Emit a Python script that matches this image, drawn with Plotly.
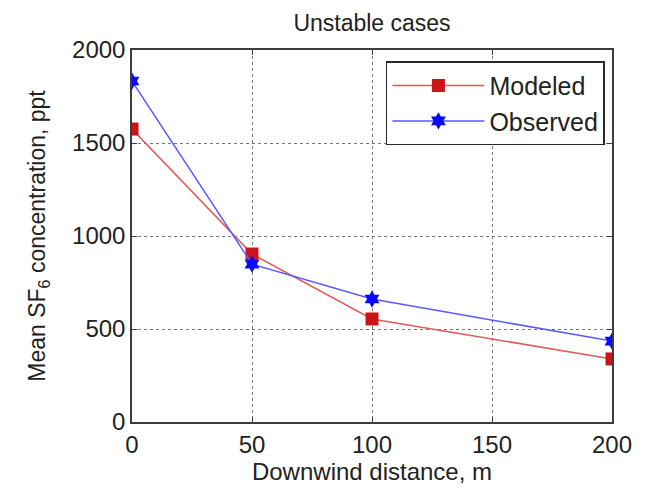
import plotly.graph_objects as go

distance = [0, 50, 100, 200]
modeled = [1575, 903, 554, 339]
observed = [1833, 849, 661, 435]
x_ticks = [0, 50, 100, 150, 200]
y_ticks = [0, 500, 1000, 1500, 2000]

FONT = "Liberation Sans, Arial, sans-serif"
TXT = "#222"

fig = go.Figure()
fig.add_trace(go.Scatter(
    x=distance, y=modeled, name="Modeled", mode="lines+markers",
    line=dict(color="rgb(225,90,90)", width=1.5),
    marker=dict(symbol="square", size=13, color="rgb(205,20,25)"),
))
fig.add_trace(go.Scatter(
    x=distance, y=observed, name="Observed", mode="lines+markers",
    line=dict(color="rgb(90,90,255)", width=1.5),
    marker=dict(symbol="hexagram", size=13, color="rgb(10,10,255)"),
))

axis_common = dict(
    showgrid=True, gridcolor="rgb(120,120,120)", griddash="dot", gridwidth=1,
    showline=True, linecolor="rgb(60,60,60)", linewidth=1.5, mirror="ticks",
    ticks="inside", ticklen=5, tickcolor="rgb(60,60,60)",
    zeroline=False, tickfont=dict(size=24, color=TXT),
)
fig.update_xaxes(range=[0, 200], tickvals=x_ticks,
                 title=dict(text="Downwind distance, m", font=dict(size=24, color=TXT), standoff=2),
                 **axis_common)
fig.update_yaxes(range=[0, 2000], tickvals=y_ticks,
                 title=dict(text="Mean SF<sub>6</sub> concentration, ppt", font=dict(size=23, color=TXT), standoff=20),
                 **axis_common)

fig.update_layout(
    width=652, height=489,
    margin=dict(l=132, r=40, t=50, b=67),
    paper_bgcolor="white", plot_bgcolor="white",
    font=dict(family=FONT, color=TXT),
    title=dict(text="Unstable cases", x=0.5, xref="paper", xanchor="center",
               y=0.953, yanchor="middle",
               font=dict(size=23, color=TXT)),
    legend=dict(x=0.529, y=0.97, xanchor="left", yanchor="top",
                bordercolor="rgb(40,40,40)", borderwidth=1.5, bgcolor="white",
                font=dict(size=25, color=TXT), itemwidth=92,
                tracegroupgap=0),
    showlegend=True,
)

fig.write_html("out.html")
